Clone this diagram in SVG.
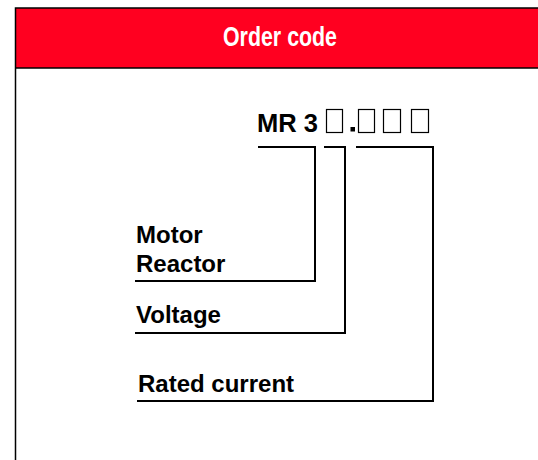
<svg xmlns="http://www.w3.org/2000/svg" width="538" height="460" viewBox="0 0 538 460">
<style>
.lbl{font-family:"Liberation Sans",Arial,sans-serif;font-weight:bold;font-size:24px;fill:#000}
.code{font-family:"Liberation Sans",Arial,sans-serif;font-weight:bold;font-size:26px;fill:#000}
.box{fill:none;stroke:#000;stroke-width:1.2}
.conn{fill:none;stroke:#000;stroke-width:2}
</style>
<rect x="0" y="0" width="538" height="460" fill="#fff"/>
<g id="frame">
<rect x="15" y="8" width="530" height="60" fill="#ff0020"/>
<path d="M15.5 470 V8 H545" fill="none" stroke="#000" stroke-width="1.5"/>
<line x1="15" y1="68" x2="545" y2="68" stroke="#000" stroke-width="1.5"/>
<text x="280" y="46" text-anchor="middle" textLength="114" lengthAdjust="spacingAndGlyphs" style="font-family:'Liberation Sans',Arial,sans-serif;font-weight:bold;font-size:27px;fill:#fff">Order code</text>
</g>
<g id="code">
<text class="code" x="257" y="132" textLength="61" lengthAdjust="spacingAndGlyphs">MR 3</text>
<rect class="box" x="326.5" y="109.5" width="16" height="23"/>
<rect x="350.5" y="127" width="4.5" height="4.5" fill="#000"/>
<rect class="box" x="358.5" y="109.5" width="16" height="23"/>
<rect class="box" x="383.5" y="109.5" width="17" height="23"/>
<rect class="box" x="411.5" y="109.5" width="17" height="23"/>
</g>
<g id="motor-reactor">
<text class="lbl" x="136" y="243">Motor</text>
<text class="lbl" x="136" y="272">Reactor</text>
</g>
<g id="voltage">
<text class="lbl" x="136" y="323">Voltage</text>
</g>
<g id="rated-current">
<text class="lbl" x="138" y="392">Rated current</text>
</g>
<g id="connectors">
<path class="conn" d="M258 147 H315 V281 H135"/>
<path class="conn" d="M324 147 H345 V333 H135"/>
<path class="conn" d="M356 147 H433 V401 H137"/>
</g>
</svg>
